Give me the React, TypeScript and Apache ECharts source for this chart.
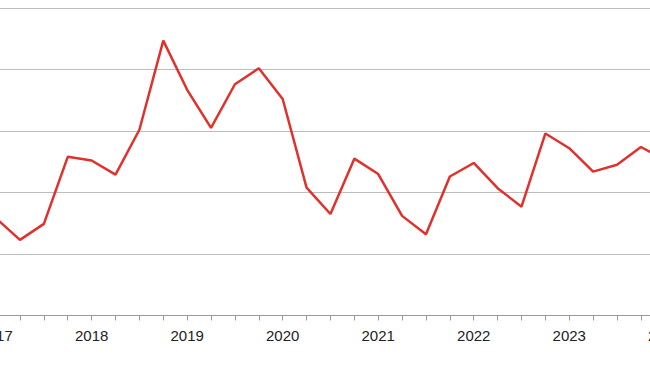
import React, { useEffect, useRef } from "react";
import * as echarts from "echarts";

const categories: string[] = [
  "2017 Q1", "2017 Q2", "2017 Q3", "2017 Q4",
  "2018 Q1", "2018 Q2", "2018 Q3", "2018 Q4",
  "2019 Q1", "2019 Q2", "2019 Q3", "2019 Q4",
  "2020 Q1", "2020 Q2", "2020 Q3", "2020 Q4",
  "2021 Q1", "2021 Q2", "2021 Q3", "2021 Q4",
  "2022 Q1", "2022 Q2", "2022 Q3", "2022 Q4",
  "2023 Q1", "2023 Q2", "2023 Q3", "2023 Q4",
  "2024 Q1",
];

const values: number[] = [
  1.58, 1.23, 1.49, 2.58,
  2.52, 2.29, 3.02, 4.47,
  3.67, 3.05, 3.76, 4.02,
  3.52, 2.08, 1.65, 2.55,
  2.30, 1.62, 1.32, 2.26,
  2.48, 2.07, 1.77, 2.96,
  2.72, 2.34, 2.45, 2.74,
  2.53,
];

const yTicks = { min: 0, max: 5, interval: 1 };

export default function App() {
  const ref = useRef<HTMLDivElement>(null);

  useEffect(() => {
    if (!ref.current) return;
    const chart = echarts.init(ref.current, undefined, { renderer: "svg" });
    chart.setOption({
      animation: false,
      backgroundColor: "#ffffff",
      grid: { left: 36.1, right: 55.2, top: 8, bottom: 49.5 },
      xAxis: {
        type: "category",
        data: categories,
        boundaryGap: false,
        axisLine: { show: true, lineStyle: { color: "#9a9a9a", width: 1 } },
        axisTick: { show: true, interval: 0, length: 5, lineStyle: { color: "#9a9a9a" } },
        axisLabel: {
          interval: (i: number) => i % 4 === 0,
          formatter: (v: string) => v.slice(0, 4),
          fontSize: 15,
          color: "#222222",
          margin: 12,
          fontFamily: "Liberation Sans, Arial, sans-serif",
        },
        splitLine: { show: false },
      },
      yAxis: {
        type: "value",
        min: yTicks.min,
        max: yTicks.max,
        interval: yTicks.interval,
        axisLabel: { show: false },
        axisLine: { show: false },
        axisTick: { show: false },
        splitLine: { show: true, lineStyle: { color: "#bdbdbd", width: 1 } },
      },
      series: [
        {
          type: "line",
          data: values,
          symbol: "none",
          lineStyle: { color: "#e0312b", width: 2.5 },
          itemStyle: { color: "#e0312b" },
        },
      ],
    });
    return () => chart.dispose();
  }, []);

  return (
    <div
      style={{
        position: "fixed",
        left: 0,
        top: 0,
        width: 650,
        height: 365,
        overflow: "hidden",
        background: "#fff",
      }}
    >
      <div
        ref={ref}
        style={{ position: "absolute", left: -40, top: 0, width: 760, height: 365 }}
      />
    </div>
  );
}
